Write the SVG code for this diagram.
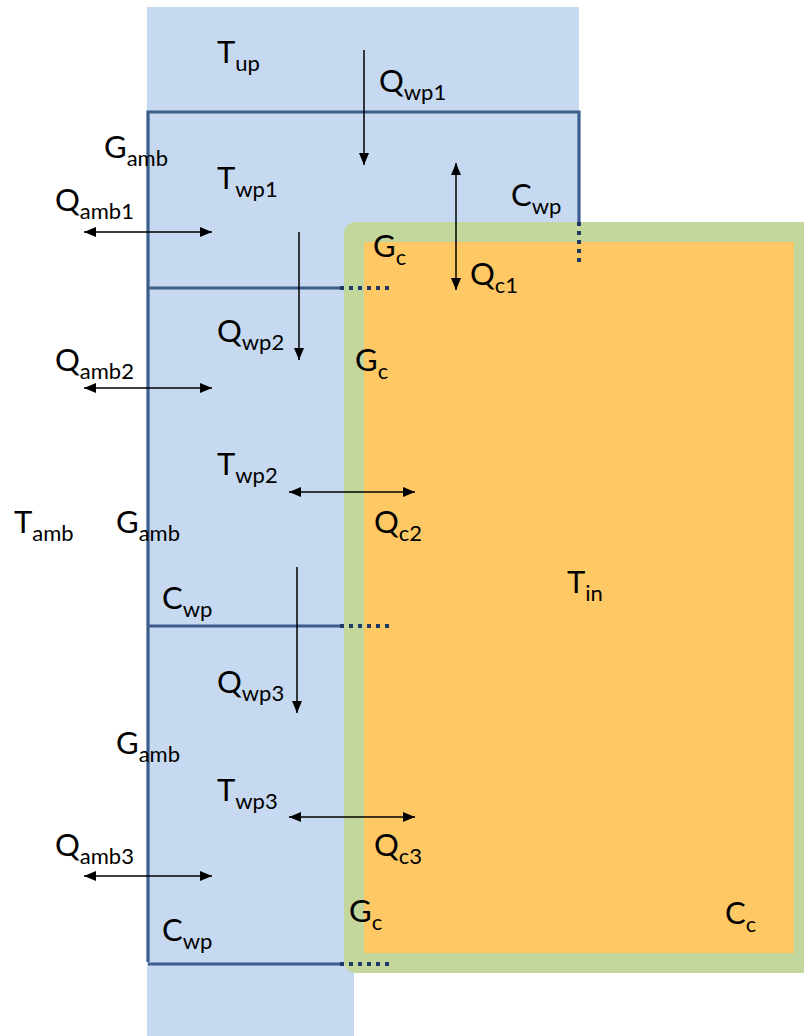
<svg xmlns="http://www.w3.org/2000/svg" width="804" height="1036" viewBox="0 0 804 1036">
<style>
.t{font-family:Lato,"Liberation Sans",sans-serif;font-size:31px;fill:#000}
.s{font-size:22px}
.wall{stroke:#3a5d8b;stroke-width:3.2;fill:none}
.dot{stroke:#1f3864;stroke-width:4;stroke-dasharray:4 5;fill:none}
.arr{stroke:#000;stroke-width:1.5;fill:none}
</style>
<defs>
<marker id="ah" viewBox="0 0 12 10" refX="12" refY="5" markerWidth="12" markerHeight="10" markerUnits="userSpaceOnUse" orient="auto-start-reverse">
<path d="M0,0 L12,5 L0,10 Z" fill="#000"/>
</marker>
</defs>
<rect width="804" height="1036" fill="#fff"/>
<g id="wall-column">
<rect x="147" y="7" width="432" height="300" fill="#c6d9f0"/>
<rect x="147" y="7" width="207" height="1029" fill="#c6d9f0"/>
<path class="wall" d="M340,288 H148 M340,626 H148 M340,964 H148 M148,962 V112 H579 V224"/>
</g>
<g id="interior">
<rect x="344" y="222" width="480" height="751" rx="12" fill="#c3d69b"/>
<rect x="364" y="242" width="430" height="711" fill="#fec964"/>
<path class="dot" d="M340,288 H392 M340,626 H392 M340,964 H392 M579,222 V264"/>
</g>
<g id="labels">
<text class="t" x="217" y="63">T<tspan class="s" dy="8">up</tspan></text>
<text class="t" x="379" y="92">Q<tspan class="s" dy="8">wp1</tspan></text>
<text class="t" x="104" y="158">G<tspan class="s" dy="8">amb</tspan></text>
<text class="t" x="217" y="189">T<tspan class="s" dy="8">wp1</tspan></text>
<text class="t" x="511" y="206">C<tspan class="s" dy="8">wp</tspan></text>
<text class="t" x="55" y="211">Q<tspan class="s" dy="8">amb1</tspan></text>
<text class="t" x="373" y="257">G<tspan class="s" dy="8">c</tspan></text>
<text class="t" x="470" y="285">Q<tspan class="s" dy="8">c1</tspan></text>
<text class="t" x="217" y="342">Q<tspan class="s" dy="8">wp2</tspan></text>
<text class="t" x="355" y="371">G<tspan class="s" dy="8">c</tspan></text>
<text class="t" x="55" y="371">Q<tspan class="s" dy="8">amb2</tspan></text>
<text class="t" x="217" y="475">T<tspan class="s" dy="8">wp2</tspan></text>
<text class="t" x="14" y="533">T<tspan class="s" dy="8">amb</tspan></text>
<text class="t" x="116" y="533">G<tspan class="s" dy="8">amb</tspan></text>
<text class="t" x="374" y="533">Q<tspan class="s" dy="8">c2</tspan></text>
<text class="t" x="567" y="593">T<tspan class="s" dy="8">in</tspan></text>
<text class="t" x="162" y="609">C<tspan class="s" dy="8">wp</tspan></text>
<text class="t" x="217" y="693">Q<tspan class="s" dy="8">wp3</tspan></text>
<text class="t" x="116" y="754">G<tspan class="s" dy="8">amb</tspan></text>
<text class="t" x="217" y="801">T<tspan class="s" dy="8">wp3</tspan></text>
<text class="t" x="374" y="856">Q<tspan class="s" dy="8">c3</tspan></text>
<text class="t" x="55" y="856">Q<tspan class="s" dy="8">amb3</tspan></text>
<text class="t" x="349" y="922">G<tspan class="s" dy="8">c</tspan></text>
<text class="t" x="725" y="924">C<tspan class="s" dy="8">c</tspan></text>
<text class="t" x="162" y="941">C<tspan class="s" dy="8">wp</tspan></text>
</g>
<g id="connectors">
<path class="arr" d="M364,50 V165" marker-end="url(#ah)"/>
<path class="arr" d="M456,163 V290" marker-start="url(#ah)" marker-end="url(#ah)"/>
<path class="arr" d="M84,232 H212" marker-start="url(#ah)" marker-end="url(#ah)"/>
<path class="arr" d="M299,232 V360" marker-end="url(#ah)"/>
<path class="arr" d="M84,388 H212" marker-start="url(#ah)" marker-end="url(#ah)"/>
<path class="arr" d="M289,492 H415" marker-start="url(#ah)" marker-end="url(#ah)"/>
<path class="arr" d="M297,567 V713" marker-end="url(#ah)"/>
<path class="arr" d="M289,817 H415" marker-start="url(#ah)" marker-end="url(#ah)"/>
<path class="arr" d="M84,876 H212" marker-start="url(#ah)" marker-end="url(#ah)"/>
</g>
</svg>
